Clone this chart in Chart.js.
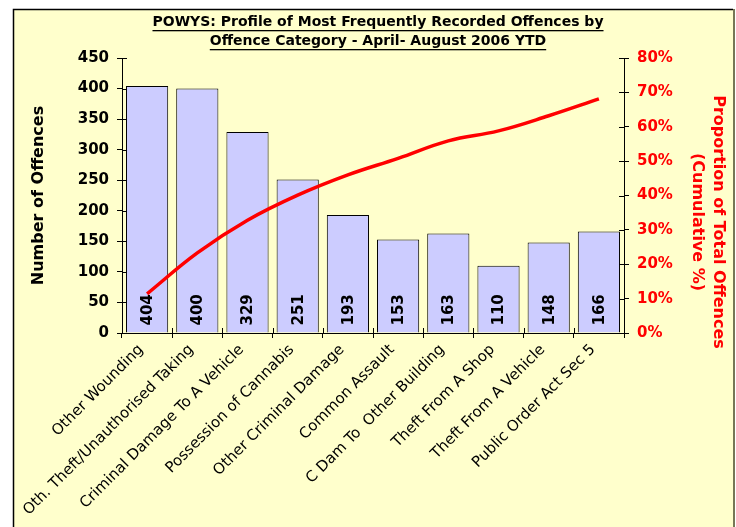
<!DOCTYPE html>
<html>
<head>
<meta charset="utf-8">
<script src="https://cdn.jsdelivr.net/npm/chart.js@4/dist/chart.umd.min.js"></script>
<style>
  html, body { margin: 0; padding: 0; background: #fff; }
</style>
</head>
<body>
<canvas id="chart" width="736" height="527"></canvas>
<script>
const titleLines = [
  "POWYS: Profile of Most Frequently Recorded Offences by",
  "Offence Category - April- August 2006 YTD"
]
const rightTitleLines = ["Proportion of Total Offences", "(Cumulative %)"]
const categories = [
  "Other Wounding",
  "Oth. Theft/Unauthorised Taking",
  "Criminal Damage To A Vehicle",
  "Possession of Cannabis",
  "Other Criminal Damage",
  "Common Assault",
  "C Dam To  Other Building",
  "Theft From A Shop",
  "Theft From A Vehicle",
  "Public Order Act Sec 5"
]
const offences = [404, 400, 329, 251, 193, 153, 163, 110, 148, 166]
const cumulativePct = [11.4, 23.3, 32.8, 40.1, 46.0, 50.8, 55.9, 58.8, 63.2, 68.1]

const FONT = "'DejaVu Sans', Verdana, sans-serif"

// yellow panel with its border, painted behind everything
const panelBackground = {
  id: "panelBackground",
  beforeDraw(chart) {
    const ctx = chart.ctx
    ctx.save()
    ctx.fillStyle = "#ffffff"
    ctx.fillRect(0, 0, chart.width, chart.height)
    ctx.fillStyle = "#FFFFCC"
    ctx.fillRect(13, 9, 721, chart.height)
    ctx.strokeStyle = "#000"
    ctx.lineWidth = 1.5
    ctx.beginPath()
    ctx.moveTo(13.5, chart.height)
    ctx.lineTo(13.5, 9.5)
    ctx.lineTo(733, 9.5)
    ctx.stroke()
    ctx.strokeStyle = "#777755"
    ctx.lineWidth = 2
    ctx.beginPath()
    ctx.moveTo(734, 9)
    ctx.lineTo(734, chart.height)
    ctx.stroke()
    ctx.restore()
  }
}

// underlined two-line heading + the red right-hand axis title
const headings = {
  id: "headings",
  afterDraw(chart) {
    const ctx = chart.ctx
    ctx.save()
    ctx.font = "bold 14px " + FONT
    ctx.fillStyle = "#000"
    ctx.textAlign = "center"
    ctx.textBaseline = "middle"
    const cx = 378
    titleLines.forEach((line, i) => {
      const y = 22 + i * 19
      ctx.fillText(line, cx, y)
      const w = ctx.measureText(line).width
      ctx.fillRect(cx - w / 2, y + 8, w, 1.3)
    })

    ctx.font = "bold 16px " + FONT
    ctx.fillStyle = "#FF0000"
    ctx.translate(718, 222)
    ctx.rotate(Math.PI / 2)
    rightTitleLines.forEach((line, i) => {
      ctx.fillText(line, 0, i * 21)
    })
    ctx.restore()
  }
}

// vertical value labels inside the bars
const barValues = {
  id: "barValues",
  afterDatasetsDraw(chart) {
    const ctx = chart.ctx
    const meta = chart.getDatasetMeta(1)
    ctx.save()
    ctx.font = "bold 15px " + FONT
    ctx.fillStyle = "#000"
    ctx.textAlign = "left"
    ctx.textBaseline = "middle"
    meta.data.forEach((bar, i) => {
      ctx.save()
      ctx.translate(bar.x, bar.base - 7)
      ctx.rotate(-Math.PI / 2)
      ctx.fillText(String(offences[i]), 0, 1)
      ctx.restore()
    })
    ctx.restore()
  }
}

// Excel-style tick marks that cross the axis line
const crossTicks = {
  id: "crossTicks",
  afterDraw(chart) {
    const ctx = chart.ctx
    const { left, right, bottom } = chart.chartArea
    ctx.save()
    ctx.strokeStyle = "#000"
    ctx.lineWidth = 1
    ctx.beginPath()
    chart.scales.y.ticks.forEach((t, i) => {
      const y = Math.round(chart.scales.y.getPixelForTick(i)) + 0.5
      ctx.moveTo(left, y); ctx.lineTo(left + 5, y)
    })
    chart.scales.y1.ticks.forEach((t, i) => {
      const y = Math.round(chart.scales.y1.getPixelForTick(i)) + 0.5
      ctx.moveTo(right, y); ctx.lineTo(right - 5, y)
    })
    const step = (right - left) / categories.length
    for (let i = 0; i <= categories.length; i++) {
      const x = Math.round(left + i * step) + 0.5
      ctx.moveTo(x, bottom); ctx.lineTo(x, bottom - 5)
    }
    ctx.stroke()
    ctx.restore()
  }
}

new Chart(document.getElementById("chart"), {
  data: {
    labels: categories,
    datasets: [
      {
        type: "line",
        label: "Cumulative %",
        data: cumulativePct,
        yAxisID: "y1",
        borderColor: "#FF0000",
        borderWidth: 3.5,
        pointRadius: 0,
        tension: 0.4,
        fill: false,
        order: 0
      },
      {
        type: "bar",
        label: "Number of Offences",
        data: offences,
        yAxisID: "y",
        backgroundColor: "#CCCCFF",
        borderColor: "#000",
        borderWidth: 1,
        categoryPercentage: 1,
        barPercentage: 0.84,
        order: 1
      }
    ]
  },
  options: {
    responsive: false,
    animation: false,
    layout: { padding: { top: 58, left: 14, right: 2, bottom: 0 } },
    plugins: {
      legend: { display: false },
      tooltip: { enabled: false }
    },
    scales: {
      x: {
        offset: true,
        grid: { offset: true, drawOnChartArea: false, tickLength: 5, color: "#000" },
        border: { color: "#000", width: 1 },
        ticks: {
          autoSkip: false,
          minRotation: 45,
          maxRotation: 45,
          padding: 3,
          labelOffset: -6,
          color: "#000",
          font: { family: FONT, size: 15 }
        },
        afterFit(s) { s.height = 194 }
      },
      y: {
        position: "left",
        min: 0,
        max: 450,
        grid: { drawOnChartArea: false, tickLength: 5, color: "#000" },
        border: { color: "#000", width: 1 },
        ticks: {
          stepSize: 50,
          padding: 8,
          color: "#000",
          font: { family: FONT, size: 15, weight: "bold" }
        },
        title: {
          display: true,
          text: "Number of Offences",
          color: "#000",
          padding: { top: 15, bottom: 0 },
          font: { family: FONT, size: 16, weight: "bold" }
        },
        afterFit(s) { s.width = 108 }
      },
      y1: {
        position: "right",
        min: 0,
        max: 80,
        grid: { drawOnChartArea: false, tickLength: 5, color: "#000" },
        border: { color: "#000", width: 1 },
        ticks: {
          stepSize: 10,
          padding: 8,
          color: "#FF0000",
          font: { family: FONT, size: 15, weight: "bold" },
          callback: v => v + "%"
        },
        afterFit(s) { s.width = 110 }
      }
    }
  },
  plugins: [panelBackground, headings, barValues, crossTicks]
})
</script>
</body>
</html>
